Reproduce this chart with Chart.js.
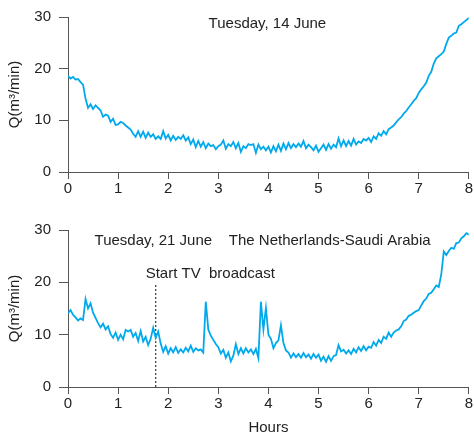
<!DOCTYPE html>
<html>
<head>
<meta charset="utf-8">
<script src="https://cdn.jsdelivr.net/npm/chart.js@4"></script>
<style>
  html, body { margin: 0; padding: 0; background: #fff; }
  #wrap { position: relative; width: 474px; height: 440px; }
  canvas { position: absolute; left: 0; }
  #top { top: 0; }
  #bottom { top: 210px; }
</style>
</head>
<body>
<div id="wrap">
  <canvas id="top" width="474" height="205"></canvas>
  <canvas id="bottom" width="474" height="230"></canvas>
</div>
<script>
/* flow, Q (m3/min), one reading every 0.05 h from 0 to 8 h */
const step = 0.05;

const flow_14june = [
  18.6, 18.1, 18.4, 17.9, 18.0, 17.4, 16.9, 14.2, 12.4, 13.1,
  12.2, 12.9, 12.4, 11.9, 10.7, 11.1, 10.9, 9.7, 10.3, 9.1,
  9.2, 9.7, 9.5, 9.0, 8.6, 8.2, 7.4, 6.8, 7.9, 6.8,
  7.8, 6.6, 7.6, 6.8, 7.3, 6.4, 6.9, 6.4, 7.9, 6.5,
  7.2, 6.1, 7.0, 6.2, 6.8, 6.4, 7.1, 6.1, 6.7, 5.4,
  6.3, 4.8, 6.0, 4.9, 5.8, 4.6, 5.5, 5.0, 5.2, 4.4,
  5.0, 5.3, 6.1, 4.5, 5.4, 5.0, 5.8, 4.6, 5.6, 3.9,
  5.0, 4.6, 5.4, 5.2, 5.4, 3.7, 5.3, 4.4, 4.9, 4.2,
  4.9, 3.8, 5.0, 4.0, 5.3, 4.1, 5.5, 4.4, 5.6, 4.6,
  5.4, 4.8, 5.5, 4.9, 6.0, 4.6, 5.3, 4.8, 4.2, 5.1,
  3.9, 4.6, 5.3, 4.3, 5.4, 4.5, 5.3, 4.8, 6.5, 5.0,
  6.1, 5.0, 6.0, 5.1, 6.4, 5.3, 5.9, 5.6, 6.4, 6.1,
  6.6, 5.8, 6.9, 6.4, 7.5, 7.0, 7.9, 7.3, 8.3, 8.6,
  9.0, 9.6, 10.2, 10.6, 11.3, 11.8, 12.5, 13.1, 13.8, 14.3,
  15.3, 16.0, 16.6, 17.3, 18.6, 19.4, 21.0, 22.0, 22.4, 22.8,
  23.3, 24.8, 26.0, 26.4, 26.8, 27.0, 28.3, 28.6, 29.0, 29.4,
  29.8
];

const flow_21june = [
  14.1, 14.7, 13.8, 13.3, 12.7, 13.1, 12.8, 16.8, 15.0, 16.0,
  14.2, 13.2, 12.2, 11.4, 12.1, 11.0, 11.6, 10.1, 9.4, 10.4,
  9.0, 10.0, 9.1, 10.9, 10.6, 10.9, 9.6, 10.3, 8.8, 10.7,
  8.7, 9.6, 8.0, 9.2, 11.3, 9.4, 10.6, 8.3, 6.7, 7.8,
  6.4, 7.4, 6.6, 7.6, 6.5, 7.2, 6.6, 7.5, 6.8, 7.9,
  6.7, 7.4, 7.0, 7.2, 6.6, 16.3, 11.0, 9.8, 9.0, 8.2,
  7.6, 6.4, 7.1, 5.6, 6.6, 4.9, 6.0, 8.2, 6.3, 7.4,
  6.4, 7.4, 6.6, 7.2, 6.3, 7.3, 5.5, 16.3, 11.0, 15.1,
  10.0, 9.2, 7.4, 8.4, 8.9, 11.8, 8.4, 7.0, 6.6, 5.6,
  6.4, 5.7, 6.3, 5.6, 6.5, 5.7, 6.2, 5.4, 6.3, 5.6,
  6.2, 5.0, 5.8, 4.8, 5.9, 5.0, 5.9, 6.1, 8.0, 6.8,
  7.1, 6.4, 7.0, 6.3, 7.3, 6.6, 7.6, 6.9, 7.8, 7.0,
  7.7, 7.5, 8.6, 7.9, 9.0, 8.4, 9.6, 9.2, 10.4, 9.6,
  10.4, 10.8, 11.0, 11.6, 12.6, 12.9, 13.6, 13.8, 14.2, 14.5,
  14.7, 15.6, 16.4, 16.9, 17.8, 18.0, 18.7, 19.4, 19.1, 21.5,
  25.9, 25.2, 26.0, 26.6, 26.4, 27.5, 27.6, 28.4, 28.8, 29.4,
  29.1
];

const xTicks = [0, 1, 2, 3, 4, 5, 6, 7, 8];
const yTicks = [0, 10, 20, 30];

const tvStartHour = 1.75;
const tvLineTop = 19.8;

const title14 = 'Tuesday, 14 June';
const title21 = 'Tuesday, 21 June    The Netherlands-Saudi Arabia';
const tvLabel = 'Start TV  broadcast';

const lineColor = '#00a9ec';
const axisColor = '#555555';
const textColor = '#222222';
const fontFamily = '"Liberation Sans", Arial, sans-serif';
const fontSize = 15;

Chart.defaults.font.family = fontFamily;
Chart.defaults.color = textColor;

function toPoints(arr) {
  return arr.map((v, i) => ({ x: Math.round(i * step * 100) / 100, y: v }));
}

// texts written inside the plot, placed through the scales
function textPlugin(items) {
  return {
    id: 'texts',
    afterDatasetsDraw(chart) {
      const c = chart.ctx;
      const xs = chart.scales.x, ys = chart.scales.y;
      c.save();
      c.font = fontSize + 'px ' + fontFamily;
      c.fillStyle = textColor;
      c.textBaseline = 'middle';
      items.forEach(t => {
        c.textAlign = t.align || 'left';
        c.fillText(t.text, xs.getPixelForValue(t.x), ys.getPixelForValue(t.y));
      });
      c.restore();
    }
  };
}

function makeOptions(xTitle, xHeight) {
  return {
    responsive: false,
    animation: false,
    devicePixelRatio: 1,
    layout: { autoPadding: false, padding: { top: 15, right: 4, left: 0, bottom: 0 } },
    plugins: { legend: { display: false }, tooltip: { enabled: false } },
    elements: { point: { radius: 0 } },
    scales: {
      x: {
        type: 'linear',
        min: 0, max: 8,
        afterBuildTicks: s => { s.ticks = xTicks.map(v => ({ value: v })); },
        afterFit: s => { s.height = xHeight; },
        grid: { drawOnChartArea: false, drawTicks: true, tickLength: 7, color: axisColor },
        border: { display: true, color: axisColor, width: 1 },
        ticks: { padding: 1, font: { size: fontSize }, color: textColor, maxRotation: 0 },
        title: {
          display: !!xTitle, text: xTitle || '',
          font: { size: fontSize }, color: textColor, padding: { top: 0, bottom: 3 }
        }
      },
      y: {
        min: 0, max: 30,
        afterBuildTicks: s => { s.ticks = yTicks.map(v => ({ value: v })); },
        afterFit: s => { s.width = 68; },
        grid: { drawOnChartArea: false, drawTicks: true, tickLength: 9, color: axisColor },
        border: { display: true, color: axisColor, width: 1 },
        ticks: { padding: 8, font: { size: fontSize }, color: textColor },
        title: {
          display: true, text: 'Q(m³/min)',
          font: { size: fontSize }, color: textColor, padding: { top: 6, bottom: 0 }
        }
      }
    }
  };
}

new Chart(document.getElementById('top'), {
  type: 'line',
  data: {
    datasets: [{
      data: toPoints(flow_14june),
      borderColor: lineColor,
      borderWidth: 1.8,
      tension: 0,
      fill: false
    }]
  },
  options: makeOptions(null, 33),
  plugins: [textPlugin([{ text: title14, x: 3.98, y: 28.6, align: 'center' }])]
});

const bottomOpts = makeOptions('Hours', 53);
bottomOpts.layout.padding.top = 20;

new Chart(document.getElementById('bottom'), {
  type: 'line',
  data: {
    datasets: [{
      data: toPoints(flow_21june),
      borderColor: lineColor,
      borderWidth: 1.8,
      tension: 0,
      fill: false
    }, {
      data: [{ x: tvStartHour, y: 0 }, { x: tvStartHour, y: tvLineTop }],
      borderColor: '#444444',
      borderWidth: 1.3,
      borderDash: [2, 2],
      fill: false
    }]
  },
  options: bottomOpts,
  plugins: [textPlugin([
    { text: title21, x: 0.53, y: 28.0 },
    { text: tvLabel, x: 1.55, y: 21.6 }
  ])]
});
</script>
</body>
</html>
